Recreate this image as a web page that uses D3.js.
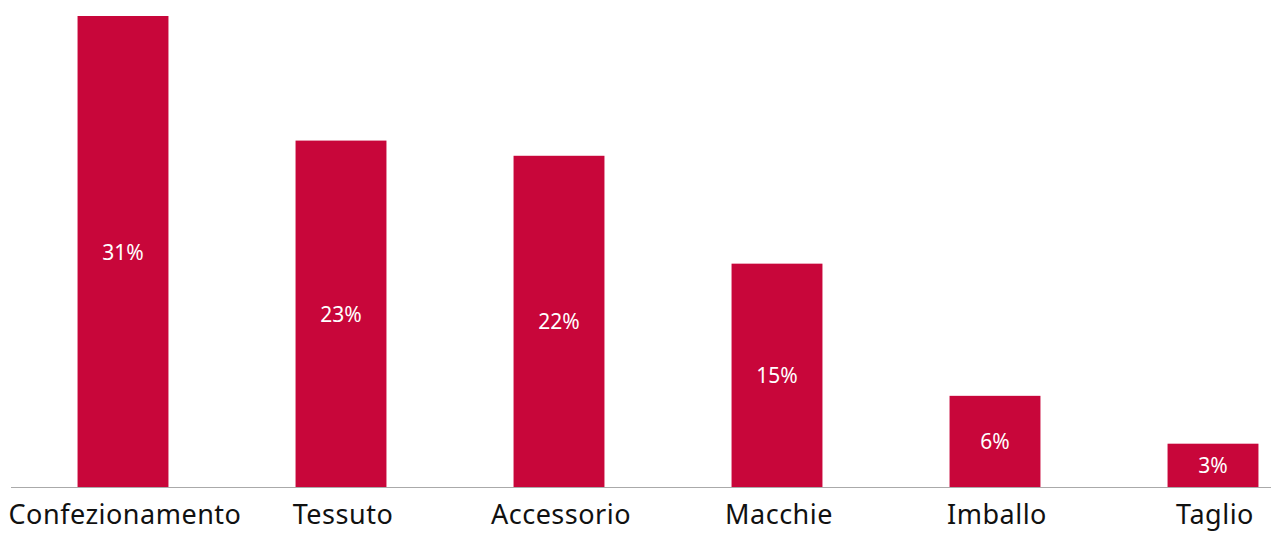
<!DOCTYPE html>
<html><head><meta charset="utf-8">
<script src="https://cdn.jsdelivr.net/npm/d3@7"></script>
<style>html,body{margin:0;padding:0;background:#fff;overflow:hidden}</style>
</head><body>
<svg id="c" width="1271" height="534"></svg>
<script>
const categories = ["Confezionamento","Tessuto","Accessorio","Macchie","Imballo","Taglio"];
const values = [31, 22.8, 21.8, 14.7, 6.0, 2.85];
const valueLabels = ["31%","23%","22%","15%","6%","3%"];

const W = 1271, H = 534;
const baseY = 487, topY = 16;
const svg = d3.select("#c");
const font = "'Noto Sans', 'DejaVu Sans', sans-serif";

const x = d3.scaleBand().domain(categories).range([14, 1322]).paddingInner(0.583).paddingOuter(0.2915);
const y = d3.scaleLinear().domain([0, 31]).range([baseY, topY]);

svg.selectAll("rect.bar").data(categories).join("rect")
  .attr("class","bar")
  .attr("x", d => x(d))
  .attr("width", x.bandwidth())
  .attr("y", (d,i) => y(values[i]))
  .attr("height", (d,i) => y(0) - y(values[i]))
  .attr("fill", "#C8063A");

svg.selectAll("text.val").data(categories).join("text")
  .attr("class","val")
  .attr("x", d => x(d) + x.bandwidth()/2)
  .attr("y", (d,i) => (y(values[i]) + y(0))/2 + 8)
  .attr("text-anchor","middle")
  .attr("fill","#fff")
  .style("font-family", font)
  .style("font-size","21px")
  .text((d,i) => valueLabels[i]);

svg.append("line").attr("x1", 11).attr("x2", W).attr("y1", baseY + 0.5).attr("y2", baseY + 0.5)
  .attr("stroke", "#aaaaaa").attr("stroke-width", 1);

svg.selectAll("text.cat").data(categories).join("text")
  .attr("class","cat")
  .attr("x", d => x(d) + x.bandwidth()/2 + 2)
  .attr("y", 524)
  .attr("text-anchor","middle")
  .attr("fill","#111")
  .style("font-family", font)
  .style("font-size","27px")
  .style("letter-spacing","0.5px")
  .text(d => d);
</script>
</body></html>
